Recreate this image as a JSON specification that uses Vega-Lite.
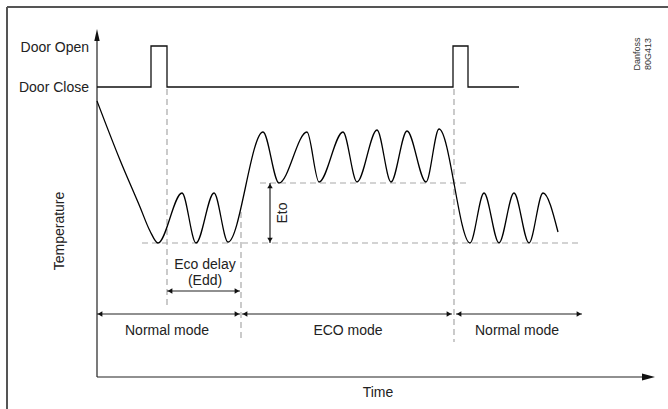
{
  "$schema": "https://vega.github.io/schema/vega-lite/v6.json",
  "width": 668,
  "height": 409,
  "padding": 0,
  "autosize": "none",
  "background": "white",
  "config": {"view": {"stroke": null}, "font": "Liberation Sans"},
  "datasets": {
    "frame": [
      {"a": 7, "b": 7, "a2": 668, "b2": 7},
      {"a": 7, "b": 7, "a2": 7, "b2": 409}
    ],
    "solid": [
      {"a": 97, "b": 36, "a2": 97, "b2": 377, "part": "axis"},
      {"a": 97, "b": 377, "a2": 648, "b2": 377, "part": "axis"},
      {"a": 97, "b": 314, "a2": 240, "b2": 314, "part": "mode"},
      {"a": 242, "b": 314, "a2": 452, "b2": 314, "part": "mode"},
      {"a": 456, "b": 314, "a2": 582, "b2": 314, "part": "mode"},
      {"a": 167, "b": 291, "a2": 240, "b2": 291, "part": "edd"},
      {"a": 270, "b": 183, "a2": 270, "b2": 243, "part": "eto"}
    ],
    "dashed": [
      {"a": 142, "b": 243, "a2": 582, "b2": 243},
      {"a": 260, "b": 183, "a2": 467, "b2": 183},
      {"a": 167, "b": 89, "a2": 167, "b2": 308},
      {"a": 241, "b": 212, "a2": 241, "b2": 342},
      {"a": 454, "b": 89, "a2": 454, "b2": 342}
    ],
    "door": [
      {"i": 0, "t": 97, "v": 87}, {"i": 1, "t": 151, "v": 87}, {"i": 2, "t": 151, "v": 46},
      {"i": 3, "t": 167, "v": 46}, {"i": 4, "t": 167, "v": 87}, {"i": 5, "t": 453, "v": 87},
      {"i": 6, "t": 453, "v": 46}, {"i": 7, "t": 468, "v": 46}, {"i": 8, "t": 468, "v": 87},
      {"i": 9, "t": 519, "v": 87}
    ],
    "temp": [
      {"t": 97, "v": 101}, {"t": 120, "v": 160}, {"t": 140, "v": 207}, {"t": 150, "v": 231},
      {"t": 158, "v": 243}, {"t": 182, "v": 193},
      {"t": 196, "v": 243}, {"t": 214, "v": 193}, {"t": 228, "v": 242}, {"t": 263, "v": 132},
      {"t": 279, "v": 183}, {"t": 307, "v": 132}, {"t": 319, "v": 182}, {"t": 343, "v": 132},
      {"t": 357, "v": 182}, {"t": 377, "v": 130}, {"t": 391, "v": 182}, {"t": 407, "v": 131},
      {"t": 426, "v": 182}, {"t": 439, "v": 129}, {"t": 470, "v": 243}, {"t": 484, "v": 193},
      {"t": 499, "v": 243}, {"t": 514, "v": 193}, {"t": 529, "v": 243}, {"t": 543, "v": 193},
      {"t": 558, "v": 232}
    ],
    "headR": [
      {"a": 237, "b": 314}, {"a": 449, "b": 314}, {"a": 579, "b": 314}, {"a": 237, "b": 291}
    ],
    "headL": [
      {"a": 100, "b": 314}, {"a": 245, "b": 314}, {"a": 459, "b": 314}, {"a": 170, "b": 291}
    ],
    "headU": [{"a": 270, "b": 186}],
    "headD": [{"a": 270, "b": 240}],
    "bigR": [{"a": 648.5, "b": 377}],
    "bigU": [{"a": 97, "b": 35}],
    "lblRight": [
      {"a": 89, "b": 48, "txt": "Door Open"},
      {"a": 89, "b": 88, "txt": "Door Close"}
    ],
    "lblCenter": [
      {"a": 205, "b": 265, "txt": "Eco delay"},
      {"a": 205, "b": 281, "txt": "(Edd)"},
      {"a": 167, "b": 331, "txt": "Normal mode"},
      {"a": 348, "b": 331, "txt": "ECO mode"},
      {"a": 517, "b": 331, "txt": "Normal mode"},
      {"a": 378, "b": 393, "txt": "Time"}
    ],
    "lblRot": [
      {"a": 60, "b": 231, "txt": "Temperature"},
      {"a": 283, "b": 213, "txt": "Eto"}
    ],
    "lblSmall": [
      {"a": 637, "b": 54, "txt": "Danfoss"},
      {"a": 648, "b": 54, "txt": "80G413"}
    ]
  },
  "encoding": {
    "x": {"field": "a", "type": "quantitative", "scale": {"domain": [0, 668], "nice": false, "zero": false}, "axis": null},
    "y": {"field": "b", "type": "quantitative", "scale": {"domain": [0, 409], "nice": false, "zero": false, "reverse": true}, "axis": null}
  },
  "layer": [
    {
      "data": {"name": "frame"},
      "mark": {"type": "rule", "color": "#555", "strokeWidth": 2},
      "encoding": {"x2": {"field": "a2"}, "y2": {"field": "b2"}}
    },
    {
      "data": {"name": "dashed"},
      "mark": {"type": "rule", "color": "#a8a8a8", "strokeWidth": 1.2, "strokeDash": [6, 4]},
      "encoding": {"x2": {"field": "a2"}, "y2": {"field": "b2"}}
    },
    {
      "data": {"name": "solid"},
      "mark": {"type": "rule", "color": "#222", "strokeWidth": 1.2},
      "encoding": {"x2": {"field": "a2"}, "y2": {"field": "b2"}}
    },
    {
      "data": {"name": "door"},
      "mark": {"type": "line", "color": "#111", "strokeWidth": 1.3},
      "encoding": {"x": {"field": "t", "type": "quantitative"}, "y": {"field": "v", "type": "quantitative"}, "order": {"field": "i"}}
    },
    {
      "data": {"name": "temp"},
      "mark": {"type": "line", "color": "#000", "strokeWidth": 1.3, "interpolate": "monotone"},
      "encoding": {"x": {"field": "t", "type": "quantitative"}, "y": {"field": "v", "type": "quantitative"}}
    },
    {"data": {"name": "headR"}, "mark": {"type": "point", "shape": "triangle-right", "filled": true, "color": "#111", "size": 30, "opacity": 1}},
    {"data": {"name": "headL"}, "mark": {"type": "point", "shape": "triangle-left", "filled": true, "color": "#111", "size": 30, "opacity": 1}},
    {"data": {"name": "headU"}, "mark": {"type": "point", "shape": "triangle-up", "filled": true, "color": "#111", "size": 30, "opacity": 1}},
    {"data": {"name": "headD"}, "mark": {"type": "point", "shape": "triangle-down", "filled": true, "color": "#111", "size": 30, "opacity": 1}},
    {"data": {"name": "bigR"}, "mark": {"type": "point", "shape": "M-1,-0.54L1,0L-1,0.54Z", "filled": true, "color": "#111", "size": 169, "opacity": 1}},
    {"data": {"name": "bigU"}, "mark": {"type": "point", "shape": "M-0.45,1L0,-1L0.45,1Z", "filled": true, "color": "#111", "size": 144, "opacity": 1}},
    {
      "data": {"name": "lblRight"},
      "mark": {"type": "text", "align": "right", "baseline": "middle", "fontSize": 14, "color": "#222"},
      "encoding": {"text": {"field": "txt"}}
    },
    {
      "data": {"name": "lblCenter"},
      "mark": {"type": "text", "align": "center", "baseline": "middle", "fontSize": 14, "color": "#222"},
      "encoding": {"text": {"field": "txt"}}
    },
    {
      "data": {"name": "lblRot"},
      "mark": {"type": "text", "align": "center", "baseline": "middle", "fontSize": 14, "color": "#222", "angle": 270},
      "encoding": {"text": {"field": "txt"}}
    },
    {
      "data": {"name": "lblSmall"},
      "mark": {"type": "text", "align": "center", "baseline": "middle", "fontSize": 9, "color": "#333", "angle": 270},
      "encoding": {"text": {"field": "txt"}}
    }
  ]
}
